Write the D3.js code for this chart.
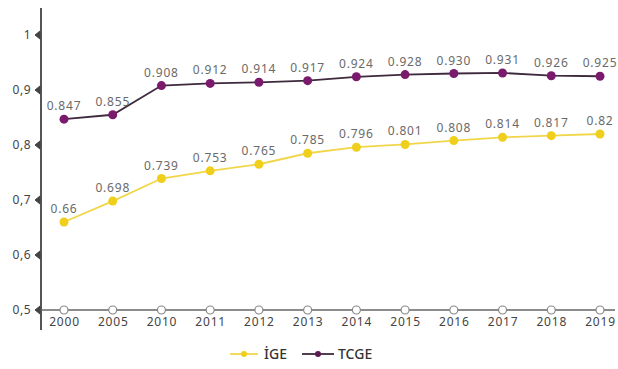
<!DOCTYPE html>
<html><head><meta charset="utf-8">
<script src="https://cdn.jsdelivr.net/npm/d3@7"></script>
<style>
html,body{margin:0;padding:0;background:#fff;}
svg{display:block;font-family:"Noto Sans",Inter,sans-serif;}
</style></head>
<body><svg id="c" width="618" height="369"></svg>
<script>
const years = ["2000","2005","2010","2011","2012","2013","2014","2015","2016","2017","2018","2019"];
const igeValues = [0.66,0.698,0.739,0.753,0.765,0.785,0.796,0.801,0.808,0.814,0.817,0.82];
const igeLabels = ["0.66","0.698","0.739","0.753","0.765","0.785","0.796","0.801","0.808","0.814","0.817","0.82"];
const tcgeValues = [0.847,0.855,0.908,0.912,0.914,0.917,0.924,0.928,0.930,0.931,0.926,0.925];
const tcgeLabels = ["0.847","0.855","0.908","0.912","0.914","0.917","0.924","0.928","0.930","0.931","0.926","0.925"];
const yTicks = [0.5,0.6,0.7,0.8,0.9,1];
const yTickLabels = ["0,5","0,6","0,7","0,8","0,9","1"];
const seriesNames = ["İGE","TCGE"];

const svg = d3.select("#c");
const x = d3.scalePoint().domain(years).range([64,600]);
const y = d3.scaleLinear().domain([0.5,1]).range([310,35]);

const axisCol = "#555";
svg.append("line").attr("x1",41).attr("x2",41).attr("y1",8).attr("y2",330)
  .attr("stroke",axisCol).attr("stroke-width",2);
svg.append("line").attr("x1",41).attr("x2",615).attr("y1",y(0.5)).attr("y2",y(0.5))
  .attr("stroke","#666").attr("stroke-width",1.5);

const yAxis = d3.axisLeft(y).tickValues(yTicks).tickSize(0).tickPadding(0)
  .tickFormat((d,i)=>yTickLabels[i]);
const gy = svg.append("g").attr("transform","translate(31,0)").call(yAxis);
gy.select(".domain").remove();
gy.selectAll("text").attr("font-size",12).attr("fill","#444").attr("dy","0.32em")
  .attr("letter-spacing","0.5px").attr("font-family","'Noto Sans',sans-serif");
yTicks.forEach(t=>{
  svg.append("path").attr("d",`M40,${y(t)-4} L35,${y(t)} L40,${y(t)+4} Z`)
    .attr("fill","#444").attr("stroke","#444").attr("stroke-width",1);
});

const xAxis = d3.axisBottom(x).tickSize(0).tickPadding(7);
const gx = svg.append("g").attr("transform",`translate(0,${y(0.5)})`).call(xAxis);
gx.select(".domain").remove();
gx.selectAll("text").attr("font-size",12).attr("fill","#444")
  .attr("letter-spacing","0.8px").attr("font-family","'Noto Sans',sans-serif");
svg.selectAll("circle.xm").data(years).enter().append("circle")
  .attr("cx",d=>x(d)).attr("cy",y(0.5)).attr("r",4)
  .attr("fill","#fff").attr("stroke","#888").attr("stroke-width",1.2);

const line = d3.line().x((d,i)=>x(years[i])).y(d=>y(d));

function drawSeries(vals, labels, lineCol, dotCol, labelCol){
  svg.append("path").datum(vals).attr("d",line)
    .attr("fill","none").attr("stroke",lineCol).attr("stroke-width",1.8);
  svg.selectAll(null).data(vals).enter().append("circle")
    .attr("cx",(d,i)=>x(years[i])).attr("cy",d=>y(d)).attr("r",4.5)
    .attr("fill",dotCol);
  svg.selectAll(null).data(vals).enter().append("text")
    .attr("x",(d,i)=>x(years[i])).attr("y",d=>y(d)-9)
    .attr("text-anchor","middle").attr("font-size",12).attr("fill",labelCol)
    .attr("letter-spacing","0.8px")
    .text((d,i)=>labels[i]);
}
drawSeries(igeValues, igeLabels, "#f2d64a", "#f0cf1c", "#6a6a6a");
drawSeries(tcgeValues, tcgeLabels, "#3e2a3c", "#7a1a6c", "#6a6a6a");

const lg = svg.append("g");
lg.append("line").attr("x1",230).attr("x2",258).attr("y1",354).attr("y2",354).attr("stroke","#f2d64a").attr("stroke-width",1.8);
lg.append("circle").attr("cx",244).attr("cy",354).attr("r",3).attr("fill","#f0cf1c");
lg.append("text").attr("x",264).attr("y",359).attr("font-size",14).attr("font-weight",500).attr("fill","#333").text(seriesNames[0]);
lg.append("line").attr("x1",302).attr("x2",334).attr("y1",354).attr("y2",354).attr("stroke","#3e2a3c").attr("stroke-width",1.8);
lg.append("circle").attr("cx",318).attr("cy",354).attr("r",3).attr("fill","#5a1a50");
lg.append("text").attr("x",338).attr("y",359).attr("font-size",14).attr("font-weight",500).attr("fill","#333").text(seriesNames[1]);
</script></body></html>
